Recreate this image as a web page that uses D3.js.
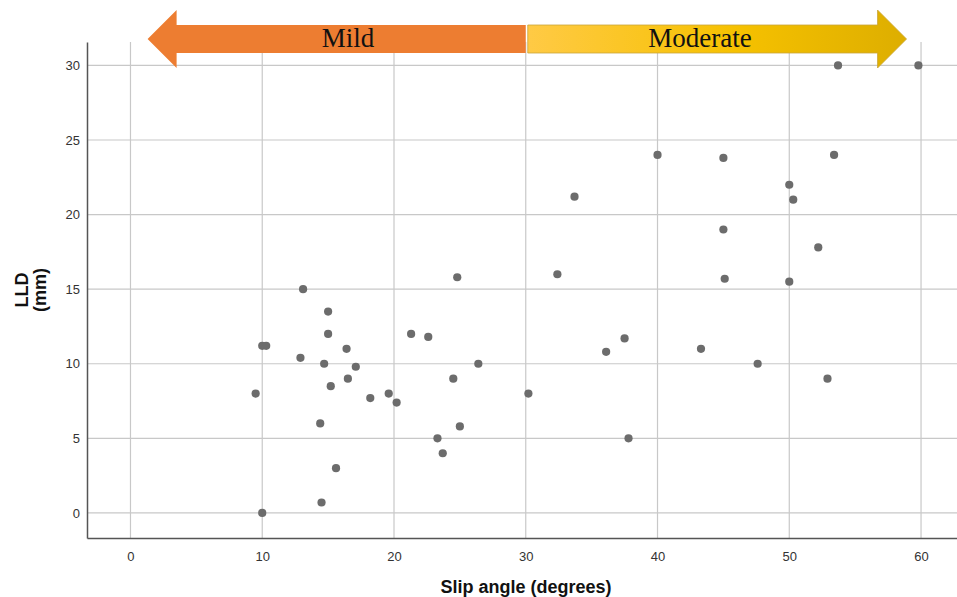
<!DOCTYPE html>
<html>
<head>
<meta charset="utf-8">
<script src="https://cdn.jsdelivr.net/npm/d3@7"></script>
<style>
  html, body { margin: 0; padding: 0; background: #fff; }
  svg { display: block; }
</style>
</head>
<body>
<svg id="chart"></svg>
<script>
// Slip angle (degrees) vs LLD (mm)
const slipAngle = [
  13.1, 15.0, 15.0, 10.0, 10.3, 24.8, 21.3, 22.6, 16.4, 12.9,
  14.7, 17.1, 26.4, 16.5, 24.5, 15.2, 9.5, 18.2, 19.6, 20.2,
  30.2, 14.4, 25.0, 23.3, 23.7, 15.6, 14.5, 10.0,
  40.0, 45.0, 53.4, 50.0, 50.3, 33.7, 45.0, 52.2, 32.4, 45.1,
  50.0, 37.5, 36.1, 43.3, 47.6, 52.9, 37.8, 53.7, 59.8
];
const lld = [
  15.0, 13.5, 12.0, 11.2, 11.2, 15.8, 12.0, 11.8, 11.0, 10.4,
  10.0, 9.8, 10.0, 9.0, 9.0, 8.5, 8.0, 7.7, 8.0, 7.4,
  8.0, 6.0, 5.8, 5.0, 4.0, 3.0, 0.7, 0.0,
  24.0, 23.8, 24.0, 22.0, 21.0, 21.2, 19.0, 17.8, 16.0, 15.7,
  15.5, 11.7, 10.8, 11.0, 10.0, 9.0, 5.0, 30.0, 30.0
];
const xTicks = [0, 10, 20, 30, 40, 50, 60];
const yTicks = [0, 5, 10, 15, 20, 25, 30];

// severity bands shown as arrows above the plot (start -> tip, in degrees)
const bandLabels = ["Mild", "Moderate"];
const bandStart = [30, 30];
const bandTip = [1.3, 58.9];

(function () {
  const W = 957, H = 597;
  const pl = 87, pt = 42, pr = 957, pb = 538;

  const svg = d3.select("#chart").attr("width", W).attr("height", H);

  const x = d3.scaleLinear().domain([-3.3, 62.73]).range([pl, pr]);
  const y = d3.scaleLinear().domain([-1.68, 31.57]).range([pb, pt]);

  // grid
  svg.append("g")
    .selectAll("line")
    .data(xTicks)
    .join("line")
    .attr("x1", d => x(d)).attr("x2", d => x(d))
    .attr("y1", pt).attr("y2", pb)
    .attr("stroke", "#c8c8c8").attr("stroke-width", 1.2);

  svg.append("g")
    .selectAll("line")
    .data(yTicks)
    .join("line")
    .attr("x1", pl).attr("x2", pr)
    .attr("y1", d => y(d)).attr("y2", d => y(d))
    .attr("stroke", "#c8c8c8").attr("stroke-width", 1.2);

  // axes
  const xAxis = svg.append("g")
    .attr("transform", `translate(0,${pb})`)
    .call(d3.axisBottom(x).tickValues(xTicks).tickSize(0).tickPadding(14));
  const yAxis = svg.append("g")
    .attr("transform", `translate(${pl},0)`)
    .call(d3.axisLeft(y).tickValues(yTicks).tickSize(0).tickPadding(7));

  [xAxis, yAxis].forEach(a => {
    a.select(".domain").attr("stroke", "#555").attr("stroke-width", 1.5);
    a.selectAll("text")
      .attr("font-family", "Arial, 'Liberation Sans', sans-serif")
      .attr("font-size", "13px")
      .attr("fill", "#333");
  });

  // points
  svg.append("g")
    .selectAll("circle")
    .data(slipAngle.map((v, i) => [v, lld[i]]))
    .join("circle")
    .attr("cx", d => x(d[0]))
    .attr("cy", d => y(d[1]))
    .attr("r", 4.1)
    .attr("fill", "#6c6c6c");

  // axis titles
  svg.append("text")
    .attr("x", (pl + pr) / 2 + 4)
    .attr("y", 593)
    .attr("text-anchor", "middle")
    .attr("font-family", "Arial, 'Liberation Sans', sans-serif")
    .attr("font-size", "18px")
    .attr("font-weight", "bold")
    .attr("fill", "#111")
    .text("Slip angle (degrees)");

  const yt = svg.append("text")
    .attr("transform", "translate(28,290) rotate(-90)")
    .attr("text-anchor", "middle")
    .attr("font-family", "Arial, 'Liberation Sans', sans-serif")
    .attr("font-size", "18px")
    .attr("font-weight", "bold")
    .attr("fill", "#111");
  yt.append("tspan").attr("x", 0).attr("dy", 0).text("LLD");
  yt.append("tspan").attr("x", 0).attr("dy", 18).text("(mm)");

  // severity arrows
  const defs = svg.append("defs");
  const grad = defs.append("linearGradient").attr("id", "modGrad")
    .attr("x1", "0%").attr("x2", "100%").attr("y1", "0%").attr("y2", "0%");
  grad.append("stop").attr("offset", "0%").attr("stop-color", "#FFCA45");
  grad.append("stop").attr("offset", "55%").attr("stop-color", "#F6C100");
  grad.append("stop").attr("offset", "100%").attr("stop-color", "#DDAE00");

  const bodyTop = 25, bodyBot = 53, headTop = 10, headBot = 68, headLen = 29;
  const fills = ["#ED7D31", "url(#modGrad)"];
  const strokes = ["none", "#c9a53a"];

  bandLabels.forEach((lab, i) => {
    const x0 = x(bandStart[i]) + (i === 0 ? 0 : 2);
    const xt = x(bandTip[i]);
    const dir = Math.sign(xt - x0);
    const xb = xt - dir * headLen;
    const mid = (headTop + headBot) / 2;
    const pts = [
      [x0, bodyTop], [xb, bodyTop], [xb, headTop], [xt, mid],
      [xb, headBot], [xb, bodyBot], [x0, bodyBot]
    ];
    svg.append("path")
      .attr("d", d3.line()(pts) + "Z")
      .attr("fill", fills[i])
      .attr("stroke", strokes[i])
      .attr("stroke-width", 0.8);
    svg.append("text")
      .attr("x", i === 0 ? 348 : 700)
      .attr("y", 47)
      .attr("text-anchor", "middle")
      .attr("font-family", "'Liberation Serif', 'Times New Roman', serif")
      .attr("font-size", "27px")
      .attr("fill", "#111")
      .text(lab);
  });
})();
</script>
</body>
</html>
